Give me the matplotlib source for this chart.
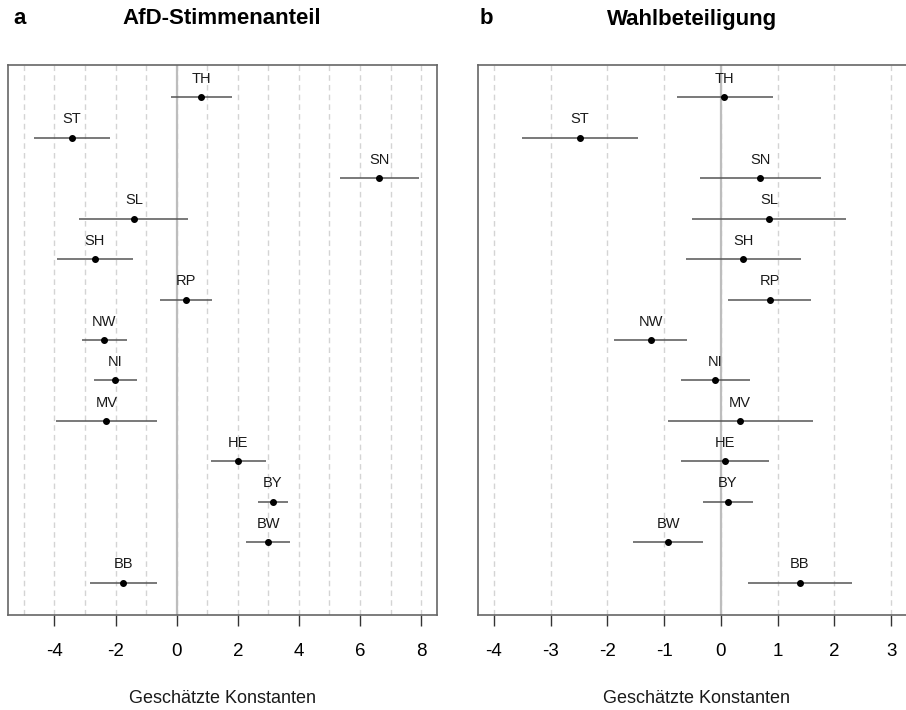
import matplotlib.pyplot as plt
import numpy as np

plt.rcParams['font.family'] = ['Liberation Sans', 'DejaVu Sans']

# Bundeslaender, von unten (BB) nach oben (TH)
laender = ["BB", "BW", "BY", "HE", "MV", "NI", "NW", "RP", "SH", "SL", "SN", "ST", "TH"]

# a: AfD-Stimmenanteil
afd_est = [-1.74, 2.99, 3.14, 2.02, -2.30, -2.01, -2.37, 0.30, -2.68, -1.40, 6.63, -3.43, 0.81]
afd_lo = [-2.84, 2.28, 2.65, 1.13, -3.95, -2.70, -3.11, -0.54, -3.90, -3.19, 5.35, -4.66, -0.18]
afd_hi = [-0.65, 3.71, 3.63, 2.92, -0.64, -1.31, -1.62, 1.15, -1.44, 0.38, 7.93, -2.19, 1.82]

# b: Wahlbeteiligung
wb_est = [1.39, -0.93, 0.12, 0.07, 0.34, -0.11, -1.24, 0.86, 0.39, 0.85, 0.69, -2.48, 0.06]
wb_lo = [0.48, -1.55, -0.32, -0.70, -0.94, -0.71, -1.88, 0.13, -0.62, -0.51, -0.36, -3.50, -0.78]
wb_hi = [2.31, -0.32, 0.56, 0.84, 1.63, 0.51, -0.59, 1.59, 1.42, 2.21, 1.76, -1.46, 0.91]


def panel(ax, est, lo, hi, xlim, grid, ticks):
    y = np.arange(1, len(laender) + 1)
    for g in grid:
        ax.axvline(g, color="#d4d4d4", lw=1, ls=(0, (4, 3)), zorder=0)
    ax.axvline(0, color="#bdbdbd", lw=1.6, zorder=1)
    ax.hlines(y, lo, hi, color="#555555", lw=1.1, zorder=2)
    ax.plot(est, y, "o", color="black", ms=4, zorder=3)
    for xi, yi, lab in zip(est, y, laender):
        ax.text(xi, yi + 0.28, lab, ha="center", va="bottom", fontsize=10.5, color="#1a1a1a")
    ax.set_xlim(*xlim)
    ax.set_ylim(0.2, 13.8)
    ax.set_yticks([])
    ax.set_xticks(ticks)
    ax.set_xticklabels([str(t) for t in ticks])
    ax.tick_params(axis="x", length=8, width=1, color="#333333", pad=12, labelsize=13.5)
    for s in ax.spines.values():
        s.set_color("#666666")
        s.set_linewidth(1.2)
    ax.set_xlabel("Geschätzte Konstanten", fontsize=13, labelpad=22, color="#1a1a1a")


fig = plt.figure(figsize=(9.06, 7.10), dpi=100)
W, H = 906, 710
ax1 = fig.add_axes([8 / W, (H - 615) / H, 429 / W, 550 / H])
ax2 = fig.add_axes([478 / W, (H - 615) / H, 437 / W, 550 / H])

panel(ax1, afd_est, afd_lo, afd_hi, (-5.52, 8.52), np.arange(-5, 9), [-4, -2, 0, 2, 4, 6, 8])
panel(ax2, wb_est, wb_lo, wb_hi, (-4.28, 3.42), np.arange(-4, 4), [-4, -3, -2, -1, 0, 1, 2, 3])

fig.text(20 / W, 1 - 19 / H, "a", fontsize=16, fontweight="bold", ha="center", va="center")
fig.text(222 / W, 1 - 19 / H, "AfD-Stimmenanteil", fontsize=16, fontweight="bold", ha="center", va="center")
fig.text(486 / W, 1 - 19 / H, "b", fontsize=16, fontweight="bold", ha="center", va="center")
fig.text(692 / W, 1 - 19 / H, "Wahlbeteiligung", fontsize=16, fontweight="bold", ha="center", va="center")

fig.savefig("out.png", dpi=100)
